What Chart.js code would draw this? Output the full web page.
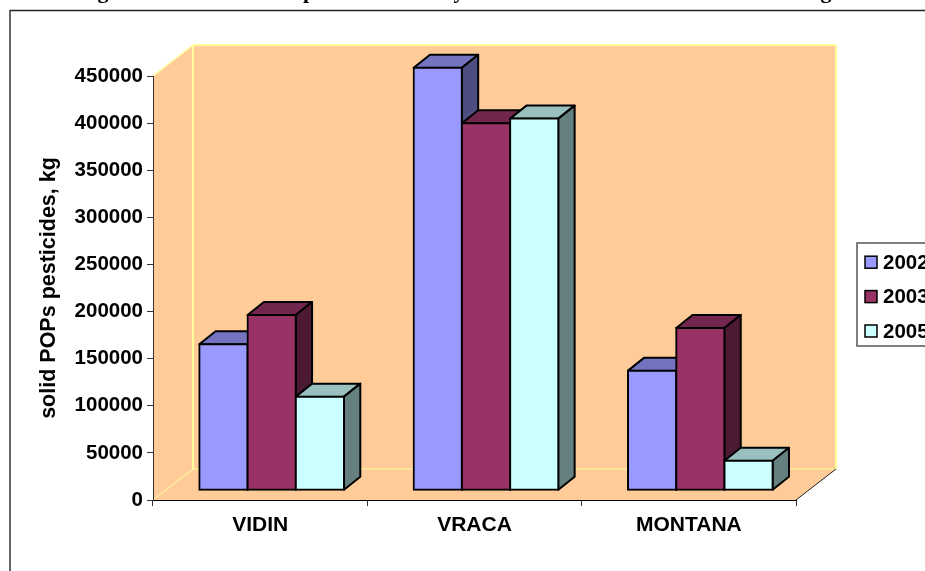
<!DOCTYPE html>
<html>
<head>
<meta charset="utf-8">
<title>Solid POPs pesticides by district</title>
<script src="https://cdn.jsdelivr.net/npm/chart.js@4"></script>
<style>
  html, body { margin: 0; padding: 0; background: #fff; overflow: hidden; }
  canvas { display: block; }
</style>
</head>
<body>
<canvas id="chart" width="925" height="571"></canvas>
<script>
// Stored solid POPs pesticides per district, in kilograms.
const districts = ['VIDIN', 'VRACA', 'MONTANA'];
const years = ['2002', '2003', '2005'];
const values2002 = [155000, 448500, 127000];
const values2003 = [186000, 389500, 172300];
const values2005 = [99400, 394500, 31400];

const frontColors = ['#9999FF', '#993366', '#CCFFFF'];
const topColors = ['#7373BF', '#73264D', '#99BFBF'];
const sideColors = ['#4D4D80', '#4D1A33', '#668080'];

const FAMILY = '"Liberation Sans", Arial, sans-serif';
const WALL = '#FFCC99';
const WALL_EDGE = '#FFFF99';

// Oblique projection of the box: the back wall sits up and to the right of the
// axes, and every column stands part way into the floor.
const boxDepth = { x: 40, y: 31 };
const barDepth = { x: 16.3, y: 13 };
const barShift = { x: 11.5, y: -9.7 };

function fillPoly(ctx, pts, fill) {
  ctx.beginPath();
  pts.forEach((p, i) => (i ? ctx.lineTo(p[0], p[1]) : ctx.moveTo(p[0], p[1])));
  ctx.closePath();
  ctx.fillStyle = fill;
  ctx.fill();
}

function strokeLine(ctx, a, b, color, width) {
  ctx.beginPath();
  ctx.moveTo(a[0], a[1]);
  ctx.lineTo(b[0], b[1]);
  ctx.strokeStyle = color;
  ctx.lineWidth = width;
  ctx.stroke();
}

const room = {
  id: 'room',
  beforeDraw(chart) {
    const { ctx, chartArea: { left, right, top, bottom } } = chart;
    const dx = boxDepth.x, dy = boxDepth.y;
    ctx.save();

    // Tail ends of the heading line that sits above the frame.
    ctx.font = 'bold 22px "Liberation Serif", "Times New Roman", serif';
    ctx.fillStyle = '#000';
    ctx.textAlign = 'center';
    ctx.textBaseline = 'alphabetic';
    [['g', 103], ['p', 309], ['y', 459], ['g', 826]].forEach(([c, x]) => ctx.fillText(c, x, -2));

    // Frame around the chart.
    strokeLine(ctx, [10, 10.5], [925, 10.5], '#222', 1.5);
    strokeLine(ctx, [10, 10], [10, 571], '#333', 1.5);

    // Back wall, side wall and floor.
    fillPoly(ctx, [[left + dx, top - dy], [right + dx, top - dy], [right + dx, bottom - dy], [left + dx, bottom - dy]], WALL);
    fillPoly(ctx, [[left, top], [left + dx, top - dy], [left + dx, bottom - dy], [left, bottom]], WALL);
    fillPoly(ctx, [[left, bottom], [left + dx, bottom - dy], [right + dx, bottom - dy], [right, bottom]], WALL);

    strokeLine(ctx, [left, top], [left + dx, top - dy], WALL_EDGE, 1.5);
    strokeLine(ctx, [left + dx, top - dy], [right + dx, top - dy], WALL_EDGE, 2);
    strokeLine(ctx, [left + dx, top - dy], [left + dx, bottom - dy], WALL_EDGE, 2);
    strokeLine(ctx, [right + dx, top - dy], [right + dx, bottom - dy], WALL_EDGE, 2);
    strokeLine(ctx, [left + dx, bottom - dy], [right + dx, bottom - dy], WALL_EDGE, 1);
    strokeLine(ctx, [left, bottom], [left + dx, bottom - dy], WALL_EDGE, 1);
    strokeLine(ctx, [right, bottom], [right + dx, bottom - dy], '#222', 1);
    ctx.restore();
  },
  // Columns are painted back to front in series order: top and side of every
  // column in the series, then the library's own bar elements as front faces.
  beforeDatasetsDraw(chart) {
    const { ctx } = chart;
    const dx = barDepth.x, dy = barDepth.y;
    ctx.save();
    ctx.translate(barShift.x, barShift.y);
    chart.data.datasets.forEach((ds, i) => {
      const meta = chart.getDatasetMeta(i);
      meta.data.forEach((bar) => {
        const l = bar.x - bar.width / 2, r = bar.x + bar.width / 2;
        const faces = [
          [[l, bar.y], [l + dx, bar.y - dy], [r + dx, bar.y - dy], [r, bar.y], topColors[i]],
          [[r, bar.y], [r + dx, bar.y - dy], [r + dx, bar.base - dy], [r, bar.base], sideColors[i]]
        ];
        faces.forEach((f) => {
          fillPoly(ctx, f.slice(0, 4), f[4]);
          ctx.strokeStyle = '#000';
          ctx.lineWidth = 2;
          ctx.lineJoin = 'round';
          ctx.stroke();
        });
      });
      meta.controller.draw();
    });
    ctx.restore();
  },
  // The series were already painted in the hook above.
  beforeDatasetDraw() {
    return false;
  },
  afterDraw(chart) {
    const { ctx } = chart;
    ctx.save();
    // Legend box; it runs on past the right edge of the page.
    ctx.fillStyle = '#fff';
    ctx.fillRect(857, 243, 120, 103);
    ctx.strokeStyle = '#555';
    ctx.lineWidth = 1.5;
    ctx.strokeRect(857, 243, 120, 103);
    ctx.font = 'bold 20.5px ' + FAMILY;
    ctx.textAlign = 'left';
    ctx.textBaseline = 'middle';
    chart.data.datasets.forEach((ds, i) => {
      const cy = 262.2 + i * 34.4;
      ctx.fillStyle = ds.backgroundColor;
      ctx.fillRect(865, cy - 6, 12, 12);
      ctx.strokeStyle = '#000';
      ctx.lineWidth = 1.5;
      ctx.strokeRect(865, cy - 6, 12, 12);
      ctx.fillStyle = '#000';
      ctx.fillText(ds.label, 883, cy + 1);
    });
    ctx.restore();
  }
};

const seriesValues = [values2002, values2003, values2005];

new Chart(document.getElementById('chart'), {
  type: 'bar',
  data: {
    labels: districts,
    datasets: years.map((year, i) => ({
      label: year,
      data: seriesValues[i],
      backgroundColor: frontColors[i],
      borderColor: '#000',
      borderWidth: 2,
      borderSkipped: false,
      inflateAmount: 1,
      categoryPercentage: 0.675,
      barPercentage: 1
    }))
  },
  options: {
    responsive: false,
    animation: false,
    layout: { padding: { left: 0, right: 129, top: 76, bottom: 0 } },
    plugins: { legend: { display: false }, title: { display: false }, tooltip: { enabled: false } },
    scales: {
      x: {
        afterFit(scale) { scale.height = 71; },
        border: { color: '#000', width: 1 },
        grid: { drawOnChartArea: false, drawTicks: true, tickLength: 6, tickColor: '#333' },
        ticks: { color: '#000', font: { family: FAMILY, size: 21, weight: 'bold' }, padding: 7, maxRotation: 0 }
      },
      y: {
        min: 0,
        max: 450000,
        afterFit(scale) { scale.width = 153; },
        border: { color: '#333', width: 1 },
        grid: { drawOnChartArea: false, drawTicks: true, tickLength: 6, tickColor: '#333' },
        ticks: {
          stepSize: 50000,
          color: '#000',
          font: { family: FAMILY, size: 20.5, weight: 'bold' },
          padding: 4,
          callback: (v) => String(v)
        },
        title: {
          display: true,
          text: 'solid POPs pesticides, kg',
          color: '#000',
          font: { family: FAMILY, size: 21.5, weight: 'bold' },
          padding: { top: 36, bottom: 0 }
        }
      }
    }
  },
  plugins: [room]
});
</script>
</body>
</html>
